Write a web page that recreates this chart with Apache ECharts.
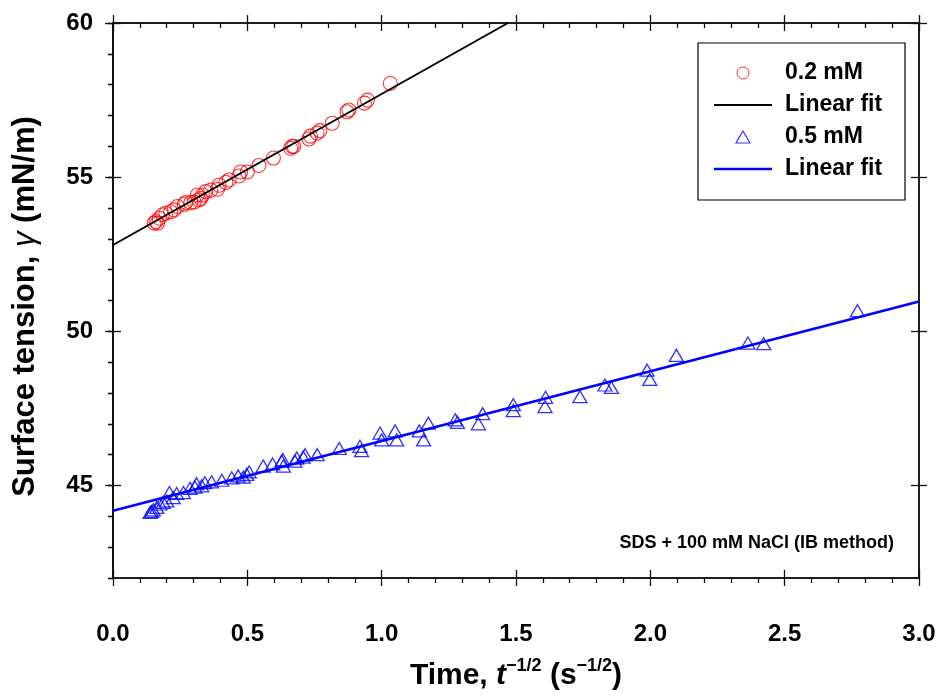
<!DOCTYPE html>
<html>
<head>
<meta charset="utf-8">
<script src="https://cdn.jsdelivr.net/npm/echarts@6/dist/echarts.min.js"></script>
<style>
html,body{margin:0;padding:0;background:#fff;}
#chart{width:940px;height:696px;}
</style>
</head>
<body>
<div id="chart"></div>
<script>
// ---- data ----
const red02 = [
  [0.153,53.51],[0.160,53.56],[0.166,53.51],[0.172,53.67],[0.184,53.78],[0.197,53.83],
  [0.215,53.88],[0.227,53.94],[0.240,54.05],[0.265,54.12],[0.271,54.18],[0.290,54.18],
  [0.302,54.20],[0.314,54.42],[0.320,54.26],[0.327,54.31],[0.333,54.42],[0.345,54.53],
  [0.364,54.58],[0.389,54.61],[0.395,54.74],[0.420,54.83],[0.432,54.91],[0.469,55.04],
  [0.475,55.17],[0.500,55.17],[0.543,55.38],[0.597,55.62],[0.661,55.94],[0.667,56.00],
  [0.673,56.00],[0.729,56.24],[0.735,56.33],[0.760,56.43],[0.770,56.51],[0.816,56.75],
  [0.871,57.12],[0.878,57.18],[0.936,57.40],[0.947,57.50],[1.032,58.04]
];
const blue05 = [
  [0.138,44.13],[0.144,44.16],[0.150,44.21],[0.163,44.29],[0.175,44.40],[0.187,44.45],
  [0.200,44.50],[0.210,44.77],[0.224,44.61],[0.237,44.74],[0.262,44.77],[0.287,44.91],
  [0.305,44.95],[0.311,45.06],[0.330,44.99],[0.342,45.09],[0.367,45.12],[0.405,45.17],
  [0.442,45.25],[0.466,45.31],[0.485,45.27],[0.498,45.36],[0.507,45.44],[0.559,45.63],
  [0.594,45.70],[0.628,45.79],[0.632,45.84],[0.634,45.63],[0.677,45.79],[0.684,45.89],
  [0.708,45.92],[0.715,46.00],[0.760,46.00],[0.842,46.20],[0.919,46.27],[0.925,46.13],
  [0.994,46.70],[1.000,46.48],[1.050,46.77],[1.056,46.48],[1.140,46.77],[1.156,46.48],
  [1.174,47.02],[1.274,47.13],[1.282,47.05],[1.360,47.00],[1.376,47.33],[1.490,47.62],
  [1.490,47.43],[1.608,47.56],[1.610,47.86],[1.738,47.88],[1.831,48.26],[1.855,48.18],
  [1.988,48.74],[1.998,48.44],[2.097,49.22],[2.363,49.62],[2.422,49.60],[2.771,50.67]
];
const fit02 = [[0,52.80],[1.47,60.00]];
const fit05 = [[0,44.18],[3.0,50.97]];
const seriesNames = ['0.2 mM','Linear fit','0.5 mM','Linear fit '];
const yMajorTicks = [45,50,55,60];
const yMinorTicks = [42,43,44,45,46,47,48,49,50,51,52,53,54,55,56,57,58,59,60];
const xMin = 0, xMax = 3, xStep = 0.5;
const yMin = 42, yMax = 60;
const annotation = 'SDS + 100 mM NaCl (IB method)';

const FONT = '"Liberation Sans", Arial, Helvetica, sans-serif';
const chart = echarts.init(document.getElementById('chart'), null, {renderer:'canvas'});

const AXC = '#111';
const line = {show:true, lineStyle:{color:AXC, width:1.5}};
const tickLS = {color:AXC, width:1.3};
const minor = {show:true, splitNumber:5, length:5, lineStyle:tickLS};
function xAx(pos, inside, opts) {
  return Object.assign({
    type:'value', min:xMin, max:xMax, interval:xStep, position:pos,
    axisLine:line, splitLine:{show:false},
    axisTick:{show:true, inside:inside, length:8, lineStyle:tickLS},
    axisLabel:{show:false}
  }, opts||{});
}
function yAx(pos, inside, len, ticks, opts) {
  return Object.assign({
    type:'value', min:yMin, max:yMax, position:pos,
    axisLine:line, splitLine:{show:false},
    axisTick:{show:true, inside:inside, length:len, customValues:ticks, lineStyle:tickLS},
    axisLabel:{show:false}
  }, opts||{});
}

const option = {
  animation:false,
  backgroundColor:'#fff',
  grid:{left:113, right:21, top:23, bottom:112, containLabel:false},
  title:{
    text:annotation, right:41, top:529,
    textStyle:{fontFamily:FONT, fontWeight:'bold', fontSize:18, color:'#000'}
  },
  legend:{
    orient:'vertical', left:698, top:43,
    padding:[18,16,19,16], itemGap:8, itemWidth:58, itemHeight:12,
    symbolKeepAspect:true,
    borderColor:'#000', borderWidth:1.2, backgroundColor:'#fff',
    textStyle:{fontFamily:FONT, fontWeight:'bold', fontSize:23, color:'#000', lineHeight:24, width:104, padding:[0,0,0,8]},
    data:[
      {name:seriesNames[0], icon:'circle', itemStyle:{color:'rgba(255,255,255,0)', borderColor:'#ff0000', borderWidth:1}},
      {name:seriesNames[1], icon:'path://M0,0H58V2H0Z', itemStyle:{color:'#000', borderWidth:0}},
      {name:seriesNames[2], icon:'path://M7,0L14,12L0,12Z', itemStyle:{color:'rgba(255,255,255,0)', borderColor:'#0000ff', borderWidth:1.2}},
      {name:seriesNames[3], icon:'path://M0,0H58V2.5H0Z', itemStyle:{color:'#0000ff', borderWidth:0}}
    ]
  },
  xAxis:[
    xAx('bottom', false, {
      minorTick:minor,
      axisLabel:{show:true, margin:44, formatter:v=>v.toFixed(1), fontFamily:FONT, fontWeight:'bold', fontSize:24, color:'#000'},
      name:'{a|Time, }{i|t}{s|\u22121/2}{a| (s}{s|\u22121/2}{a|)}',
      nameLocation:'middle', nameGap:79,
      nameTextStyle:{
        rich:{
          a:{fontFamily:FONT, fontWeight:'bold', fontSize:30, color:'#000', lineHeight:32},
          i:{fontFamily:FONT, fontWeight:'bold', fontStyle:'italic', fontSize:30, color:'#000', lineHeight:32},
          s:{fontFamily:FONT, fontWeight:'bold', fontSize:18, color:'#000', padding:[0,0,20,0]}
        }
      }
    }),
    xAx('bottom', true),
    xAx('top', true, {minorTick:minor}),
    xAx('top', false)
  ],
  yAxis:[
    yAx('left', false, 8, yMajorTicks, {
      axisLabel:{show:true, customValues:yMajorTicks, margin:20, fontFamily:FONT, fontWeight:'bold', fontSize:24, color:'#000'},
      name:'{a|Surface tension, }{g|\u03b3}{a| (mN/m)}',
      nameLocation:'middle', nameGap:72,
      nameTextStyle:{
        padding:[0,12,0,0],
        rich:{
          a:{fontFamily:FONT, fontWeight:'bold', fontSize:31, color:'#000'},
          g:{fontFamily:FONT, fontStyle:'italic', fontSize:31, color:'#000'}
        }
      }
    }),
    yAx('left', false, 5, yMinorTicks),
    yAx('left', true, 8, yMajorTicks),
    yAx('right', true, 5, yMinorTicks),
    yAx('right', true, 8, yMajorTicks),
    yAx('right', false, 8, yMajorTicks)
  ],
  series:[
    {
      name:seriesNames[0], type:'scatter', xAxisIndex:0, yAxisIndex:0,
      data:red02, symbol:'circle', symbolSize:14,
      itemStyle:{color:'rgba(255,255,255,0)', borderColor:'#ff0000', borderWidth:1.1}
    },
    {
      name:seriesNames[1], type:'line', xAxisIndex:0, yAxisIndex:0,
      data:fit02, symbol:'none', showSymbol:false,
      lineStyle:{color:'#000', width:2}, itemStyle:{color:'#000'}
    },
    {
      name:seriesNames[2], type:'scatter', xAxisIndex:0, yAxisIndex:0,
      data:blue05, symbol:'triangle', symbolSize:[14,12],
      itemStyle:{color:'rgba(255,255,255,0)', borderColor:'#0000ff', borderWidth:1.3}
    },
    {
      name:seriesNames[3], type:'line', xAxisIndex:0, yAxisIndex:0,
      data:fit05, symbol:'none', showSymbol:false,
      lineStyle:{color:'#0000ff', width:2.5}, itemStyle:{color:'#0000ff'}
    }
  ]
};
chart.setOption(option);
</script>
</body>
</html>
